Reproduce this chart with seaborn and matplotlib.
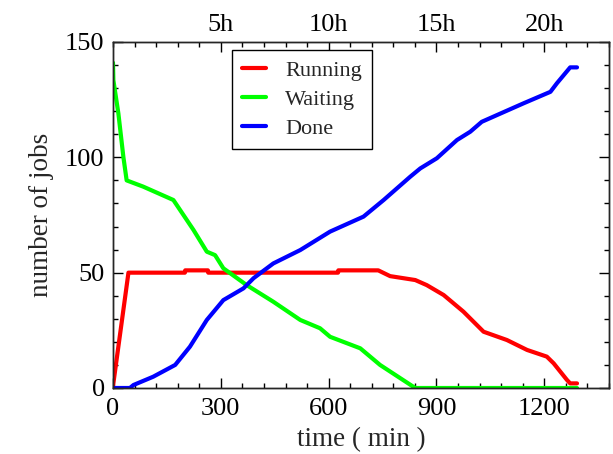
import matplotlib
matplotlib.use("Agg")
import matplotlib.pyplot as plt
import seaborn as sns
import pandas as pd
from matplotlib.ticker import MultipleLocator, FixedLocator, FixedFormatter

# ---- data ----
running_t = [0, 1, 43, 200, 201, 264, 265, 626, 627, 738, 771, 841, 873, 920, 975, 1031, 1096, 1152, 1207, 1226, 1263, 1272, 1291]
running_v = [0, 2, 50, 50, 51, 51, 50, 50, 51, 51, 48.5, 46.8, 44.6, 40.3, 33.1, 24.4, 20.8, 16.5, 13.6, 10.7, 3.5, 2, 2]

waiting_t = [0, 1, 15, 29, 38, 84, 168, 224, 261, 284, 307, 372, 446, 521, 576, 604, 688, 743, 841, 1291]
waiting_v = [141, 133.5, 119, 100, 90, 87.3, 81.5, 68.5, 59.1, 57.6, 51.9, 44.6, 37.4, 29.5, 25.9, 22.2, 17.2, 10, 0, 0]

done_t = [0, 47, 57, 112, 173, 214, 261, 307, 363, 391, 446, 521, 604, 697, 753, 827, 855, 901, 957, 994, 1026, 1068, 1142, 1217, 1235, 1272, 1291]
done_v = [0, 0, 1.3, 4.9, 10, 17.9, 29.5, 38.1, 43.2, 47.6, 54, 59.8, 67.8, 74.3, 81.5, 91.6, 95.2, 99.6, 107.5, 111.1, 115.4, 118.3, 123.4, 128.4, 132.1, 139, 139]

series_names = ["Running", "Waiting", "Done"]
series_colors = ["#ff0000", "#00ff00", "#0000ff"]

top_tick_minutes = [300, 600, 900, 1200]
top_tick_labels = ["5h", "10h", "15h", "20h"]

df = pd.concat([
    pd.DataFrame({"time": running_t, "jobs": running_v, "state": "Running"}),
    pd.DataFrame({"time": waiting_t, "jobs": waiting_v, "state": "Waiting"}),
    pd.DataFrame({"time": done_t, "jobs": done_v, "state": "Done"}),
], ignore_index=True)

sns.set_style("ticks")
plt.rcParams["font.family"] = ["Liberation Serif", "DejaVu Serif"]

fig = plt.figure(figsize=(6.13, 4.54), dpi=100)
ax = fig.add_axes([113/613, 1-388/454, (609-113)/613, (388-42)/454])

sns.lineplot(data=df, x="time", y="jobs", hue="state", hue_order=series_names,
             palette=dict(zip(series_names, series_colors)), estimator=None,
             sort=False, linewidth=3.0, ax=ax)

ax.set_xlim(0, 1380)
ax.set_ylim(0, 150)
ax.xaxis.set_major_locator(MultipleLocator(300))
ax.xaxis.set_minor_locator(MultipleLocator(60))
ax.yaxis.set_major_locator(MultipleLocator(50))
ax.yaxis.set_minor_locator(MultipleLocator(10))

for s in ax.spines.values():
    s.set_visible(True)
    s.set_linewidth(1.0)
    s.set_color("black")

ax.tick_params(which="both", direction="in", top=False, right=True, colors="black")
ax.tick_params(which="major", length=7, width=1.0, labelsize=19, pad=7)
ax.tick_params(which="minor", length=3.5, width=1.0)
ax.tick_params(axis="y", which="major", pad=6)

ax.set_xlabel("time ( min )", fontsize=19.5, labelpad=5)
ax.set_ylabel("number of jobs", fontsize=19.5, labelpad=8)

# top axis in hours
ax2 = ax.twiny()
ax2.set_xlim(ax.get_xlim())
ax2.xaxis.set_major_locator(FixedLocator(top_tick_minutes))
ax2.xaxis.set_major_formatter(FixedFormatter(top_tick_labels))
ax2.xaxis.set_minor_locator(MultipleLocator(60))
ax2.tick_params(which="both", direction="in", colors="black")
ax2.tick_params(which="major", length=7, width=1.0, labelsize=19, pad=4)
ax2.tick_params(which="minor", length=3.5, width=1.0)
for s in ax2.spines.values():
    s.set_linewidth(1.0)

handles, labels = ax.get_legend_handles_labels()
ax.get_legend().remove()
leg = ax2.legend(handles, labels, loc="upper left", bbox_to_anchor=(0.24, 0.977),
                 borderaxespad=0, frameon=True, fancybox=False, fontsize=16,
                 handlelength=1.1, handletextpad=0.85, labelspacing=0.38,
                 borderpad=0.45, edgecolor="black", framealpha=1)
leg.get_frame().set_linewidth(1.0)
for h in leg.get_lines():
    h.set_linewidth(3.0)

fig.savefig("out.png", dpi=100)
